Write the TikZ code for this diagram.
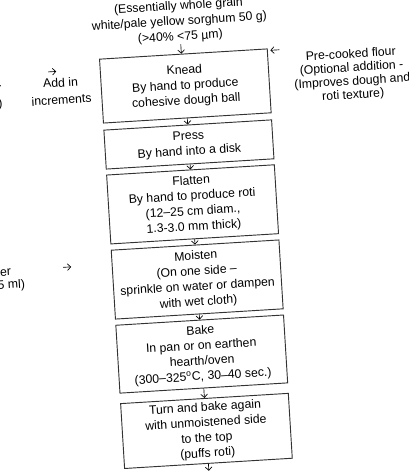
\documentclass[tikz,border=0pt]{standalone}
\usepackage{fontspec}
\setmainfont{Liberation Sans}
\usetikzlibrary{arrows.meta}
\begin{document}
\begin{tikzpicture}[x=0.75pt,y=-0.75pt]

	% Node styles
	\tikzset{
		paso/.style={
			rectangle,
			draw=black!80,
			line width=0.7pt,
			minimum width=126pt,
			inner sep=1.5pt,
			align=center,
			font=\fontsize{9.2}{11.5}\selectfont
		},
		nota/.style={
			align=center,
			inner sep=1pt,
			font=\fontsize{9.2}{11.5}\selectfont
		},
		flecha/.style={
			-{Straight Barb[length=2.5pt,width=5pt]},
			line width=0.5pt
		}
	}

	\useasboundingbox (0,0) rectangle (409,472);
	\clip (0,0) rectangle (409,472);

	\begin{scope}[rotate around={3.5:(200,260)},transform shape]

		% Nodes
		\node[nota] (Fl) at (194,21) {(Essentially whole grain\\white/pale yellow sorghum 50 g)\\(>40\% <75 µm)};
		\node[paso,minimum height=48pt] (K) at (196,85.4) {Knead\\By hand to produce\\cohesive dough ball};
		\node[paso,minimum height=29.25pt] (Pr) at (196,144) {Press\\By hand into a disk};
		\node[paso,minimum height=51.75pt] (F) at (196,204) {Flatten\\By hand to produce roti\\(12--25 cm diam.,\\1.3-3.0 mm thick)};
		\node[paso,minimum height=51.75pt] (M) at (196,279.3) {Moisten\\(On one side --\\sprinkle on water or dampen\\with wet cloth)};
		\node[paso,minimum height=51pt] (B) at (196,354) {Bake\\In pan or on earthen\\hearth/oven\\(300--325\textsuperscript{o}C, 30--40 sec.)};
		\node[paso,minimum height=48.75pt] (T) at (196,431) {Turn and bake again\\with unmoistened side\\to the top\\(puffs roti)};
		\coordinate (Fin) at (196,471);

		% Side texts
		\node[nota,font=\fontsize{9.2}{10.2}\selectfont] (Pc) at (363,84.7) {Pre-cooked flour\\(Optional addition -\\(Improves dough and\\roti texture)};
		\node[nota,font=\fontsize{9.2}{13}\selectfont] (Ad) at (71.6,83) {Add in\\increments};
		\node[nota,anchor=east,align=right] (W1) at (14,70) {Water\\(Boiling\\water\\45 ml)};
		\node[nota,font=\fontsize{9.2}{10}\selectfont] (W2) at (-5.5,267.5) {Water\\(40--45 ml)};
		\coordinate (a1) at (60,63);
		\coordinate (a2) at (68,63);
		\coordinate (b1) at (292,55);
		\coordinate (b2) at (283,55);
		\coordinate (c1) at (63,259);
		\coordinate (c2) at (71,259);

		% Arrows
		\draw[flecha] (Fl.south) -- (Fl.south |- K.north);
		\draw[flecha] (K) -- (Pr);
		\draw[flecha] (Pr) -- (F);
		\draw[flecha] (F) -- (M);
		\draw[flecha] (M) -- (B);
		\draw[flecha] (B) -- (T);
		\draw[flecha] (T) -- (Fin);
		\draw[flecha] (a1) -- (a2);
		\draw[flecha] (b1) -- (b2);
		\draw[flecha] (c1) -- (c2);

	\end{scope}

\end{tikzpicture}
\end{document}
